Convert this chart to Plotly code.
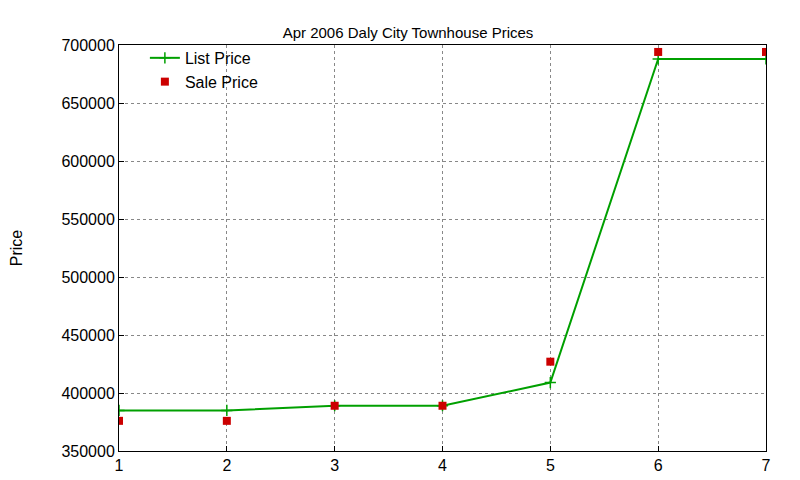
import plotly.graph_objects as go

x = [1, 2, 3, 4, 5, 6, 7]
list_price = [385000, 385000, 389000, 389000, 409000, 688000, 688000]
sale_price = [376000, 376000, 389000, 389000, 427000, 694000, 694000]

fig = go.Figure()
fig.add_trace(go.Scatter(x=x, y=list_price, mode="lines+markers", name="List Price",
                         line=dict(color="#00a000", width=2),
                         marker=dict(symbol="cross-thin", size=8, line=dict(color="#00a000", width=1.5))))
fig.add_trace(go.Scatter(x=x, y=sale_price, mode="markers", name="Sale Price",
                         marker=dict(symbol="square", size=8, color="#cc0000")))

axis_common = dict(showgrid=True, gridcolor="#888888", griddash="dot", gridwidth=1,
                   showline=True, linecolor="black", mirror=True, ticks="inside",
                   tickcolor="black", zeroline=False, automargin=False,
                   tickfont=dict(size=16, color="black"))
fig.update_layout(
    width=800, height=480, plot_bgcolor="white", paper_bgcolor="white",
    font=dict(family="Liberation Sans, Arial", color="black"),
    title=dict(text="Apr 2006 Daly City Townhouse Prices", x=0.5, xanchor="center", y=0.96, font=dict(size=15)),
    margin=dict(l=111, r=42, t=37, b=37),
    xaxis=dict(range=[1, 7], dtick=1, **axis_common),
    yaxis=dict(range=[350000, 700000], dtick=50000, tickformat="d",
               title=dict(text="Price", font=dict(size=16), standoff=40), **axis_common),
    legend=dict(x=0.04, y=1.01, xanchor="left", yanchor="top", bgcolor="rgba(0,0,0,0)",
                font=dict(size=16), tracegroupgap=0),
    showlegend=True,
)
fig.update_yaxes(automargin=False)
fig.write_html("out.html")
